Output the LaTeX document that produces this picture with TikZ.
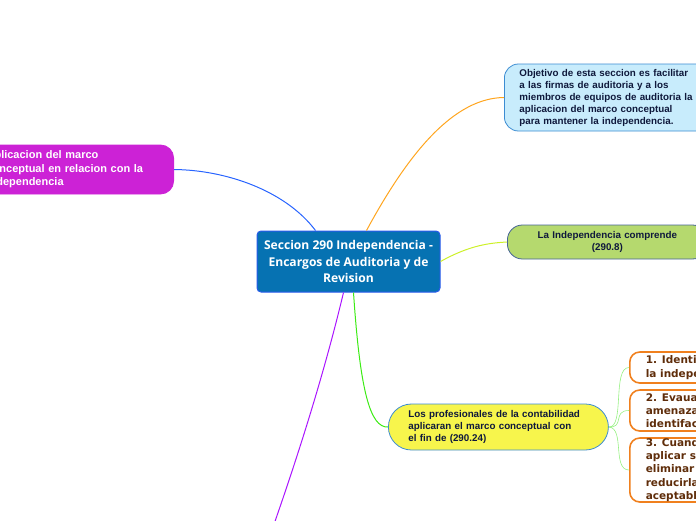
\documentclass[tikz,border=0pt]{standalone}
\usepackage{fontspec}
\setmainfont{Liberation Sans}
\newfontfamily\centrefont{Open Sans}
\newfontfamily\numfont{DejaVu Sans}
\usepackage{tikz}

\definecolor{centrefill}{RGB}{6,114,178}
\definecolor{centreline}{RGB}{40,90,235}
\definecolor{magentafill}{RGB}{204,34,214}
\definecolor{skyfill}{RGB}{200,236,252}
\definecolor{skyline}{RGB}{60,140,210}
\definecolor{limefill}{RGB}{181,217,110}
\definecolor{limeline}{RGB}{70,100,150}
\definecolor{lemonfill}{RGB}{247,245,76}
\definecolor{orangeline}{RGB}{240,128,30}
\definecolor{navytext}{RGB}{15,25,60}
\definecolor{browntext}{RGB}{95,45,10}

\begin{document}
\begin{tikzpicture}[x=1pt, y=-1pt,
                every node/.style={align=left, font=\bfseries\fontsize{9.8}{12}\selectfont, text=navytext, inner ysep=0pt},
                centre/.style={rectangle, rounded corners=4pt, draw=centreline, line width=1pt, fill=centrefill, text=white, align=center, minimum width=183pt, minimum height=61pt, font=\centrefont\bfseries\fontsize{12.1}{16.8}\selectfont},
                branch/.style={rectangle, draw, line width=0.8pt, inner xsep=15pt},
                stepbox/.style={rectangle, rounded corners=10pt, draw=orangeline, line width=1.6pt, fill=white, anchor=west, inner xsep=16pt, text=browntext, font=\numfont\bfseries\fontsize{10.5}{13.3}\selectfont},
                link/.style={line width=1pt}
            ]
                \useasboundingbox (0,0) rectangle (696,520);
                \clip (0,0) rectangle (696,520);
                \node[centre] (seccion) at (348.5,261.5) {Seccion 290 Independencia -\\Encargos de Auditoria y de\\Revision};
                \node[branch, anchor=east, rounded corners=13pt, draw=magentafill, fill=magentafill, text=white, minimum height=49pt, inner xsep=14pt, text width=173pt, font=\bfseries\fontsize{11}{13.5}\selectfont] (aplicacion) at (174,169.5) {Aplicacion del marco\\conceptual en relacion con la\\Independencia};
                \node[branch, anchor=west, rounded corners=14pt, draw=skyline, fill=skyfill, minimum height=67pt, text width=185pt] (objetivo) at (504,97.5) {Objetivo de esta seccion es facilitar\\a las firmas de auditoria y a los\\miembros de equipos de auditoria la\\aplicacion del marco conceptual\\para mantener la independencia.};
                \node[branch, anchor=west, rounded corners=15pt, draw=limeline, fill=limefill, minimum height=34pt, text width=170pt, align=center] (comprende) at (507,242) {La Independencia comprende\\(290.8)};
                \node[branch, anchor=west, rounded corners=23pt, draw=skyline, fill=lemonfill, minimum height=46pt, inner xsep=20pt, text width=180pt] (profesionales) at (388,427) {Los profesionales de la contabilidad\\aplicaran el marco conceptual con\\el fin de (290.24)};
                \node[stepbox, minimum height=31pt] (paso1) at (629,367.5) {1. Identificar amenazas a\\la independencia};
                \node[stepbox, minimum height=41pt] (paso2) at (629,410.5) {2. Evauar la importancia de las\\amenazas\\identifacadas};
                \node[stepbox, minimum height=64pt] (paso3) at (629,470) {3. Cuando sea necesario,\\aplicar salvaguardas para\\eliminar las amenazas o\\reducirlas a un nivel\\aceptable.};
                \coordinate (abajo) at (272,530);

                \draw[link, draw={rgb,255:red,40;green,100;blue,255}] ([xshift=-33pt]seccion.north) .. controls (285,190) and (225,170) .. (aplicacion.east);
                \draw[link, draw={rgb,255:red,255;green,165;blue,30}] ([xshift=18pt]seccion.north) .. controls (410,150) and (455,98) .. (objetivo.west);
                \draw[link, draw={rgb,255:red,205;green,240;blue,40}] (seccion.east) .. controls (470,245) and (490,243) .. (comprende.west);
                \draw[link, draw={rgb,255:red,60;green,235;blue,20}] ([xshift=5pt]seccion.south) .. controls (360,390) and (370,428) .. (profesionales.west);
                \draw[link, draw={rgb,255:red,170;green,20;blue,255}] ([xshift=-5pt]seccion.south) .. controls (325,370) and (300,450) .. (abajo);
                \foreach \paso in {paso1,paso2,paso3}
                    \draw[line width=0.6pt, draw={rgb,255:red,150;green,240;blue,130}] (profesionales.east) .. controls (625,428) and (612,0|-\paso.west) .. (\paso.west);
            \end{tikzpicture}
\end{document}
